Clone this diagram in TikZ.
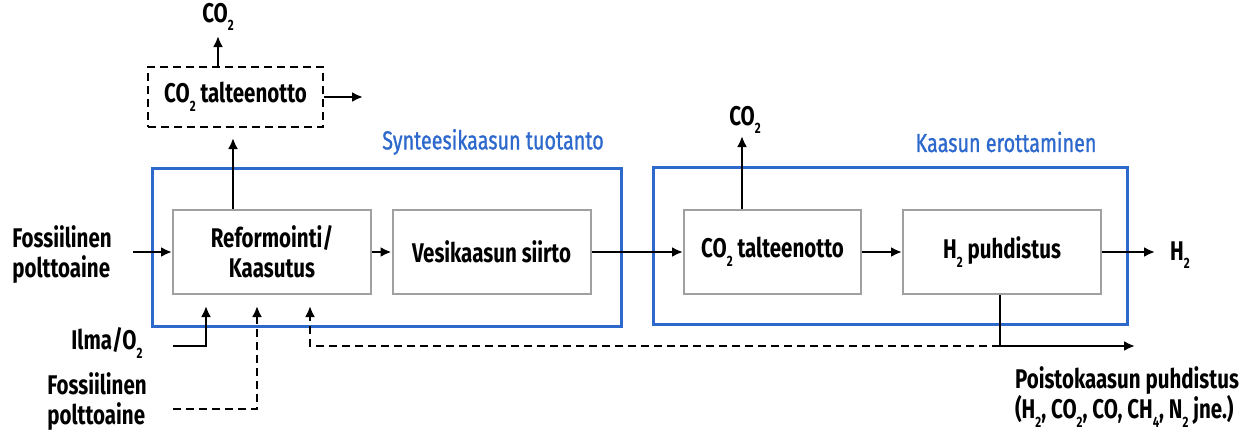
\documentclass[tikz,border=0pt]{standalone}
\usepackage{fontspec}
\setmainfont{Fira Sans}[FakeStretch=0.76]
\newfontfamily\bluefont{Fira Sans}[FakeStretch=0.76,FakeBold=1]
\usetikzlibrary{arrows.meta}
\definecolor{groupblue}{RGB}{45,105,205}
\definecolor{boxgray}{RGB}{160,160,160}
\newcommand{\lowsub}[1]{\raisebox{-0.6ex}{\fontsize{15}{15}\selectfont #1}}
\begin{document}
\begin{tikzpicture}[x=1pt,y=-1pt,
    font=\fontsize{27}{30}\selectfont\bfseries,
    procbox/.style={draw=boxgray,line width=2pt,minimum width=198pt,minimum height=84pt,align=center,inner sep=0pt},
    groupbox/.style={draw=groupblue,line width=3pt,inner sep=0pt},
    grouplabel/.style={text=groupblue,font=\fontsize{26}{30}\selectfont\bluefont},
    arr/.style={-{Latex[length=11pt,width=10pt]},line width=2.5pt},
    dashline/.style={dash pattern=on 8pt off 5pt}]
    \useasboundingbox (0,0) rectangle (1255,434);
    % group frames
    \node[groupbox,minimum width=469pt,minimum height=158pt] (syn) at (386.5,247) {};
    \node[groupbox,minimum width=474pt,minimum height=157pt] (sep) at (890,245.5) {};
    \node[grouplabel] (synlabel) at (493,142) {Synteesikaasun tuotanto};
    \node[grouplabel] (seplabel) at (1006,142) {Kaasun erottaminen};
    % process steps
    \node[procbox] (reform) at (272,252) {Reformointi/\\Kaasutus};
    \node[procbox] (shift) at (491.5,252) {Vesikaasun siirto};
    \node[procbox,minimum width=177pt] (capture) at (772.5,252) {CO\lowsub{2} talteenotto};
    \node[procbox] (purify) at (1002,252) {H\lowsub{2} puhdistus};
    \node[draw,dashline,line width=2.5pt,minimum width=175pt,minimum height=60pt,inner sep=0pt] (capdash) at (235.5,97) {CO\lowsub{2} talteenotto};
    % labels
    \node[align=left] (fossil) at (62,255) {Fossiilinen\\polttoaine};
    \node[anchor=east] (air) at (146,343) {Ilma/O\lowsub{2}};
    \node[align=left] (fossilb) at (97,402) {Fossiilinen\\polttoaine};
    \node (co2top) at (218,17) {CO\lowsub{2}};
    \node (co2sep) at (745,120) {CO\lowsub{2}};
    \node (h2) at (1180,255) {H\lowsub{2}};
    \node[align=left] (waste) at (1127,397) {Poistokaasun puhdistus\\(H\lowsub{2}, CO\lowsub{2}, CO, CH\lowsub{4}, N\lowsub{2} jne.)};
    % free ends
    \coordinate (fuelin) at (133,252);
    \coordinate (airin) at (173,346);
    \coordinate (airtip) at (206,306);
    \coordinate (fuelbin) at (173,409);
    \coordinate (fuelbtip) at (257,306);
    \coordinate (captip) at (233,138);
    \coordinate (co2tip) at (218,36);
    \coordinate (capout) at (363,97);
    \coordinate (co2septip) at (742,136);
    \coordinate (h2tip) at (1155,252);
    \coordinate (junc) at (1000,346);
    \coordinate (wastetip) at (1135,346);
    \coordinate (recycle) at (310,306);
    % connectors
    \draw[arr] (fuelin) -- (reform);
    \draw[arr] (reform) -- (shift);
    \draw[arr] (shift) -- (capture);
    \draw[arr] (capture) -- (purify);
    \draw[arr] (purify) -- (h2tip);
    \draw[arr] (airin) -| (airtip);
    \draw[arr,dashline] (fuelbin) -| (fuelbtip);
    \draw[arr] (reform.north -| captip) -- (captip);
    \draw[arr] (capdash.north -| co2tip) -- (co2tip);
    \draw[arr] (capdash.east) -- (capout);
    \draw[arr] (capture.north -| co2septip) -- (co2septip);
    \draw[line width=2.5pt] (purify.south -| junc) -- (junc);
    \draw[arr] (junc) -- (wastetip);
    \draw[arr,dashline] (junc) -| (recycle);
\end{tikzpicture}
\end{document}
